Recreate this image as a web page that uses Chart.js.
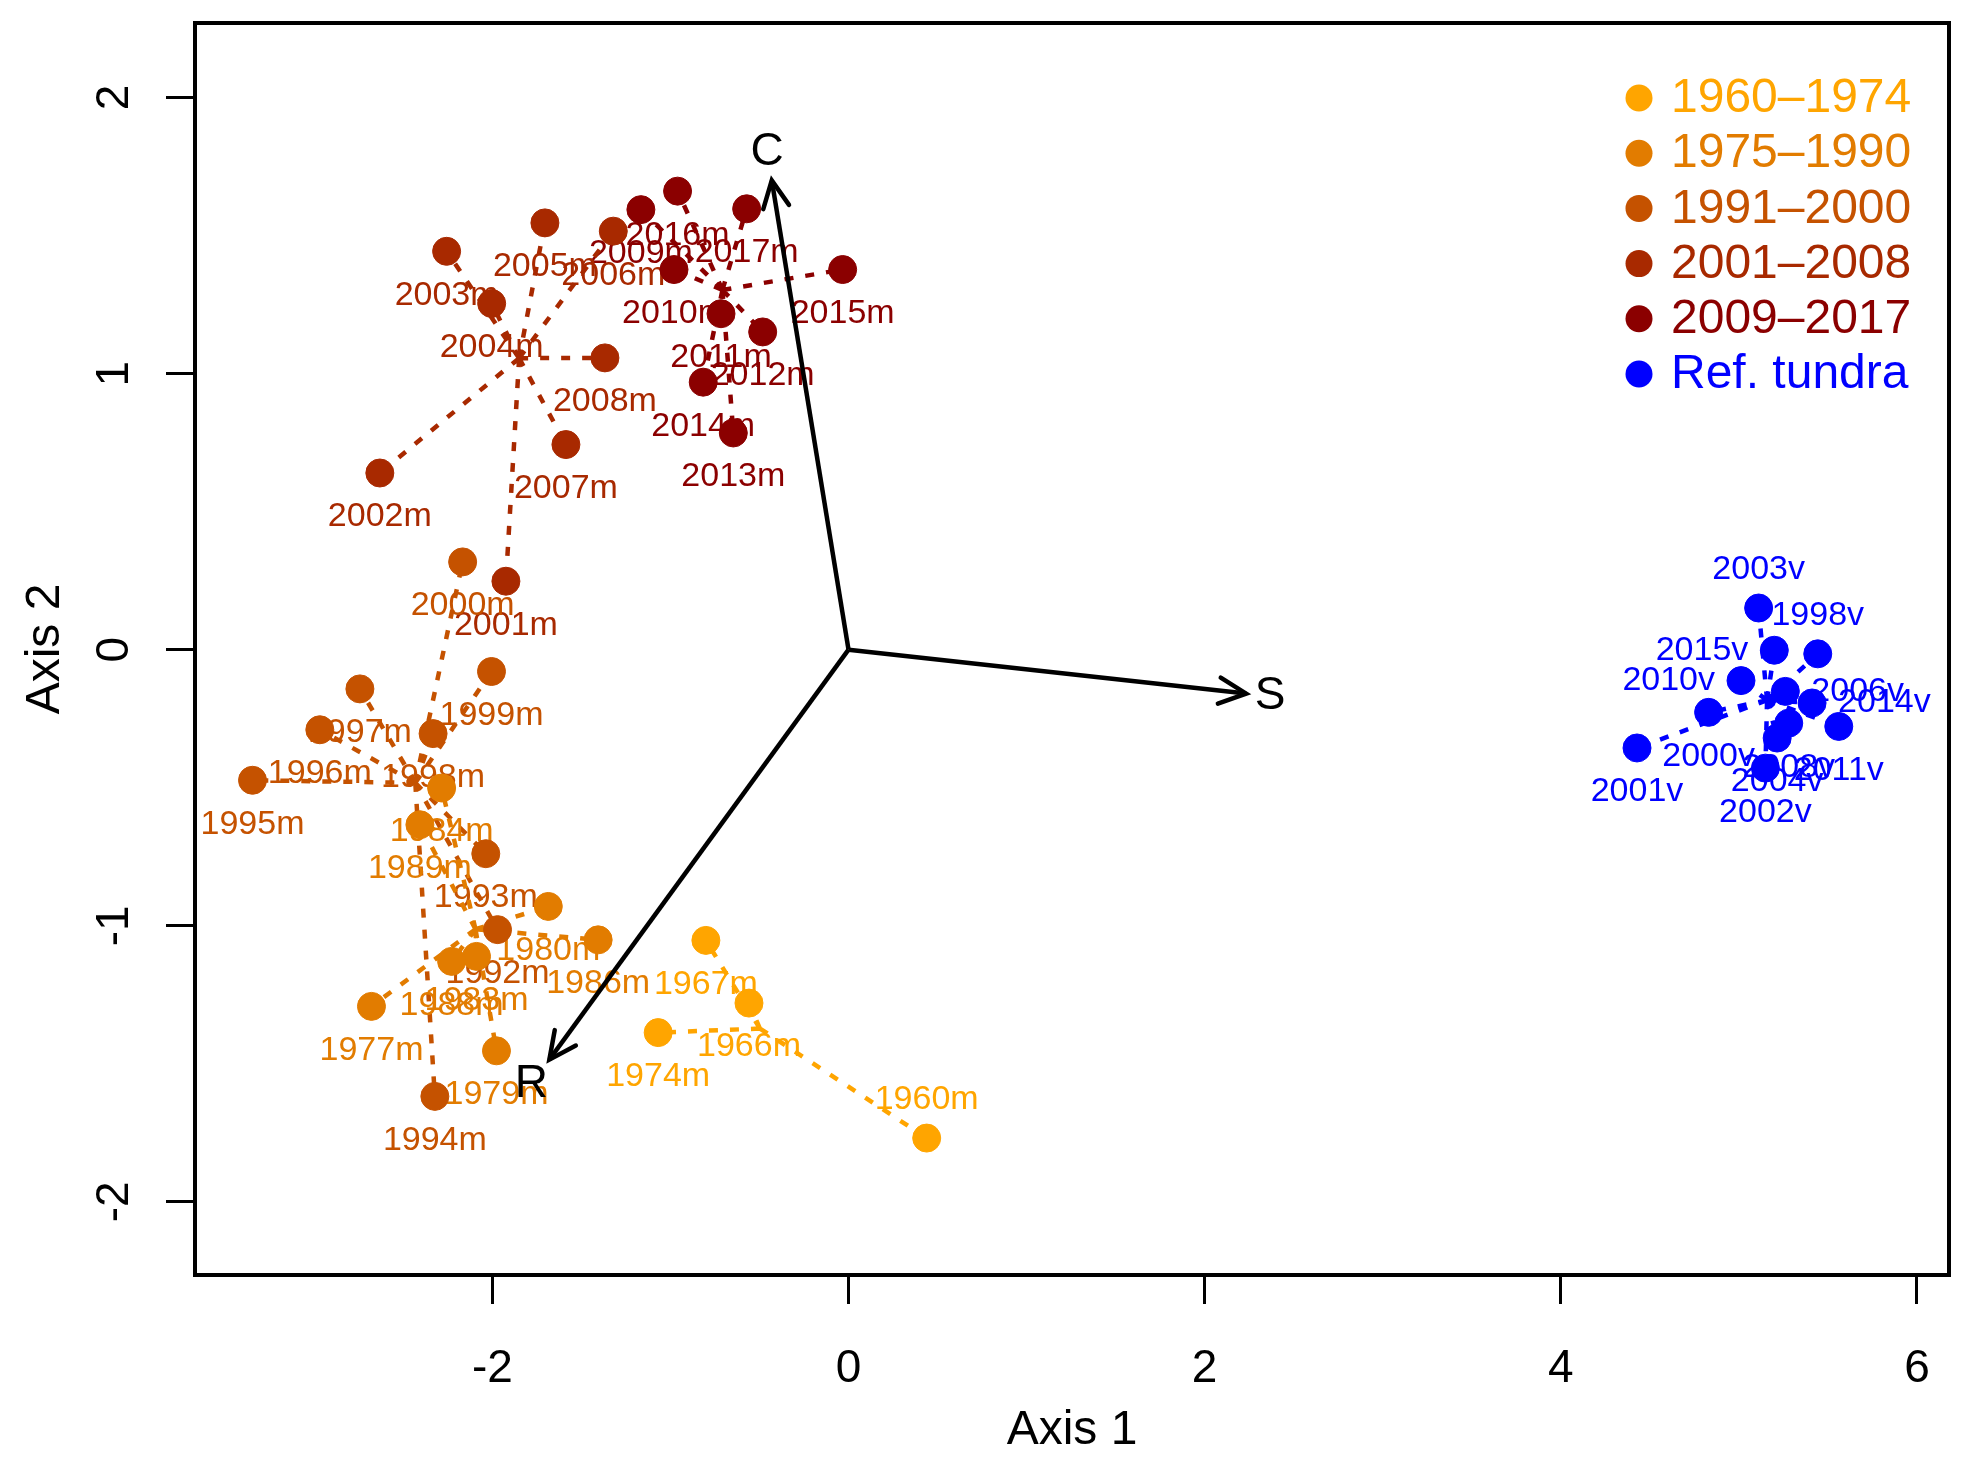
<!DOCTYPE html>
<html>
<head>
<meta charset="utf-8">
<script src="https://cdn.jsdelivr.net/npm/chart.js"></script>
<style>
html,body{margin:0;padding:0;background:#fff}
#wrap{width:1974px;height:1465px}
</style>
</head>
<body>
<div id="wrap"><canvas id="ord" width="1974" height="1465"></canvas></div>
<script>
/* ================= DATA ================= */
const groupNames  = ['1960–1974','1975–1990','1991–2000','2001–2008','2009–2017','Ref. tundra'];
const groupColors = ['#FFA500','#E27C00','#C55200','#A82900','#8B0000','#0000FF'];

const g1Labels = ['1960m','1966m','1967m','1974m'];
const g1X = [0.439,-0.559,-0.801,-1.069];
const g1Y = [-1.769,-1.280,-1.053,-1.387];

const g2Labels = ['1977m','1979m','1980m','1983m','1984m','1986m','1988m','1989m'];
const g2X = [-2.679,-1.977,-1.686,-2.089,-2.285,-1.406,-2.229,-2.407];
const g2Y = [-1.292,-1.453,-0.930,-1.111,-0.501,-1.051,-1.129,-0.634];

const g3Labels = ['1992m','1993m','1994m','1995m','1996m','1997m','1998m','1999m','2000m'];
const g3X = [-1.971,-2.037,-2.323,-3.347,-2.969,-2.744,-2.333,-2.005,-2.167];
const g3Y = [-1.014,-0.739,-1.618,-0.473,-0.290,-0.142,-0.304,-0.079,0.318];

const g4Labels = ['2001m','2002m','2003m','2004m','2005m','2006m','2007m','2008m'];
const g4X = [-1.924,-2.632,-2.257,-2.004,-1.705,-1.321,-1.587,-1.368];
const g4Y = [0.248,0.640,1.443,1.254,1.546,1.516,0.743,1.057];

const g5Labels = ['2009m','2010m','2011m','2012m','2013m','2014m','2015m','2016m','2017m'];
const g5X = [-1.166,-0.980,-0.716,-0.482,-0.647,-0.816,-0.033,-0.960,-0.572];
const g5Y = [1.594,1.377,1.217,1.151,0.785,0.969,1.377,1.661,1.597];

const g6Labels = ['1998v','2000v','2001v','2002v','2003v','2004v','2006v','2008v','2010v','2011v','2014v','2015v'];
const g6X = [5.443,4.830,4.428,5.149,5.111,5.215,5.261,5.280,5.012,5.561,5.411,5.199];
const g6Y = [-0.015,-0.227,-0.356,-0.429,0.151,-0.320,-0.151,-0.266,-0.112,-0.278,-0.193,-0.002];

const arrowNames = ['C','R','S'];
const arrowX = [-0.431,-1.680,2.233];
const arrowY = [1.700,-1.485,-0.159];

const xTicks = [-2,0,2,4,6];
const yTicks = [-2,-1,0,1,2];
const xRange = [-3.67,6.18];
const yRange = [-2.265,2.27];

/* ================= STYLE ================= */
const FONT = '"Liberation Sans", Arial, Helvetica, sans-serif';
// label side for the few labels not placed below their point
const labelSide = {'1960m':'above','1998v':'above','2003v':'above','2006v':'right','2014v':'right','2010v':'left','2015v':'left'};
const sideOff = {below:[0,44,'center'],above:[0,-38,'center'],left:[-26,0,'right'],right:[26,0,'left']};

/* ================= DATASETS ================= */
const groups = [[g1Labels,g1X,g1Y],[g2Labels,g2X,g2Y],[g3Labels,g3X,g3Y],[g4Labels,g4X,g4Y],[g5Labels,g5X,g5Y],[g6Labels,g6X,g6Y]];
const mean = a=>a.reduce((s,v)=>s+v,0)/a.length;

const datasets = [];
groups.forEach(([lab,xs,ys],i)=>{
  datasets.push({
    label:groupNames[i], kind:'pts', grp:i,
    data:xs.map((x,k)=>({x,y:ys[k],name:lab[k]})),
    backgroundColor:groupColors[i], borderColor:groupColors[i],
    borderWidth:1, pointRadius:14, pointHoverRadius:14, order:0
  });
  // spider: centroid -> each site
  const cx=mean(xs), cy=mean(ys), spokes=[];
  xs.forEach((x,k)=>spokes.push({x:cx,y:cy},{x,y:ys[k]},{x,y:NaN}));
  datasets.push({
    label:'spider '+i, kind:'spider', grp:i, data:spokes,
    showLine:true, spanGaps:false, pointRadius:0,
    borderColor:groupColors[i], borderWidth:4.5, borderDash:[9,12], order:1
  });
});
arrowNames.forEach((n,i)=>datasets.push({
  label:'arrow '+n, kind:'arrow', data:[{x:0,y:0},{x:arrowX[i],y:arrowY[i]}],
  showLine:true, pointRadius:0, borderColor:'#000', borderWidth:4.5, order:-1
}));

/* ================= PLUGIN ================= */
const ordPlot = {
  id:'ordPlot',
  afterDatasetDraw(chart,args){
    const ds=chart.data.datasets[args.index];
    if(ds.kind!=='spider') return;
    const {ctx,scales:{x,y}}=chart, [lab,xs,ys]=groups[ds.grp];
    ctx.save();
    ctx.font='34px '+FONT; ctx.fillStyle=groupColors[ds.grp]; ctx.textBaseline='middle';
    lab.forEach((t,k)=>{
      const o=sideOff[labelSide[t]||'below'];
      ctx.textAlign=o[2];
      ctx.fillText(t, x.getPixelForValue(xs[k])+o[0], y.getPixelForValue(ys[k])+o[1]);
    });
    ctx.restore();
  },
  afterDatasetsDraw(chart){
    const {ctx,scales:{x,y},chartArea:ca}=chart;
    ctx.save();
    // arrow heads + names
    ctx.strokeStyle='#000'; ctx.lineWidth=4.5; ctx.lineCap='round';
    const x0=x.getPixelForValue(0), y0=y.getPixelForValue(0);
    arrowNames.forEach((n,i)=>{
      const px=x.getPixelForValue(arrowX[i]), py=y.getPixelForValue(arrowY[i]);
      const a=Math.atan2(py-y0,px-x0), L=30;
      ctx.beginPath();
      ctx.moveTo(px-L*Math.cos(a-0.45), py-L*Math.sin(a-0.45));
      ctx.lineTo(px,py);
      ctx.lineTo(px-L*Math.cos(a+0.45), py-L*Math.sin(a+0.45));
      ctx.stroke();
      ctx.font='46px '+FONT; ctx.fillStyle='#000'; ctx.textAlign='center'; ctx.textBaseline='middle';
      ctx.fillText(n, x.getPixelForValue(arrowX[i]*1.06), y.getPixelForValue(arrowY[i]*1.06));
    });
    // legend, top right inside the box
    ctx.font='48px '+FONT; ctx.textAlign='left'; ctx.textBaseline='middle';
    groupNames.forEach((g,i)=>{
      const ly=ca.top+75+i*55.2;
      ctx.fillStyle=groupColors[i];
      ctx.beginPath(); ctx.arc(ca.right-310, ly, 13.5, 0, Math.PI*2); ctx.fill();
      ctx.fillText(g, ca.right-278, ly+1);
    });
    // box
    ctx.lineWidth=4; ctx.strokeStyle='#000';
    ctx.strokeRect(ca.left, ca.top, ca.right-ca.left, ca.bottom-ca.top);
    ctx.restore();
  }
};

/* ================= CHART ================= */
new Chart(document.getElementById('ord'),{
  type:'scatter',
  data:{datasets},
  options:{
    responsive:false, animation:false, events:[],
    layout:{padding:{top:23,right:25,left:0,bottom:0}},
    plugins:{legend:{display:false},tooltip:{enabled:false}},
    scales:{
      x:{
        type:'linear', min:xRange[0], max:xRange[1],
        afterBuildTicks:s=>{s.ticks=xTicks.map(v=>({value:v}))},
        afterFit:s=>{s.height=190; s.paddingLeft=0; s.paddingRight=0},
        border:{display:false},
        grid:{drawOnChartArea:false, drawTicks:true, tickLength:29, color:'#000', lineWidth:3},
        ticks:{color:'#000', font:{family:FONT,size:46}, padding:38, minRotation:0, maxRotation:0},
        title:{display:true, text:'Axis 1', color:'#000', font:{family:FONT,size:48}, padding:{top:0,bottom:5}}
      },
      y:{
        type:'linear', min:yRange[0], max:yRange[1],
        afterBuildTicks:s=>{s.ticks=yTicks.map(v=>({value:v}))},
        afterFit:s=>{s.width=195; s.paddingTop=0; s.paddingBottom=0},
        border:{display:false},
        grid:{drawOnChartArea:false, drawTicks:true, tickLength:29, color:'#000', lineWidth:3},
        ticks:{color:'#000', font:{family:FONT,size:46}, padding:30, minRotation:90, maxRotation:90, crossAlign:'center'},
        title:{display:true, text:'Axis 2', color:'#000', font:{family:FONT,size:48}, padding:{top:17,bottom:0}}
      }
    }
  },
  plugins:[ordPlot]
});
</script>
</body>
</html>
